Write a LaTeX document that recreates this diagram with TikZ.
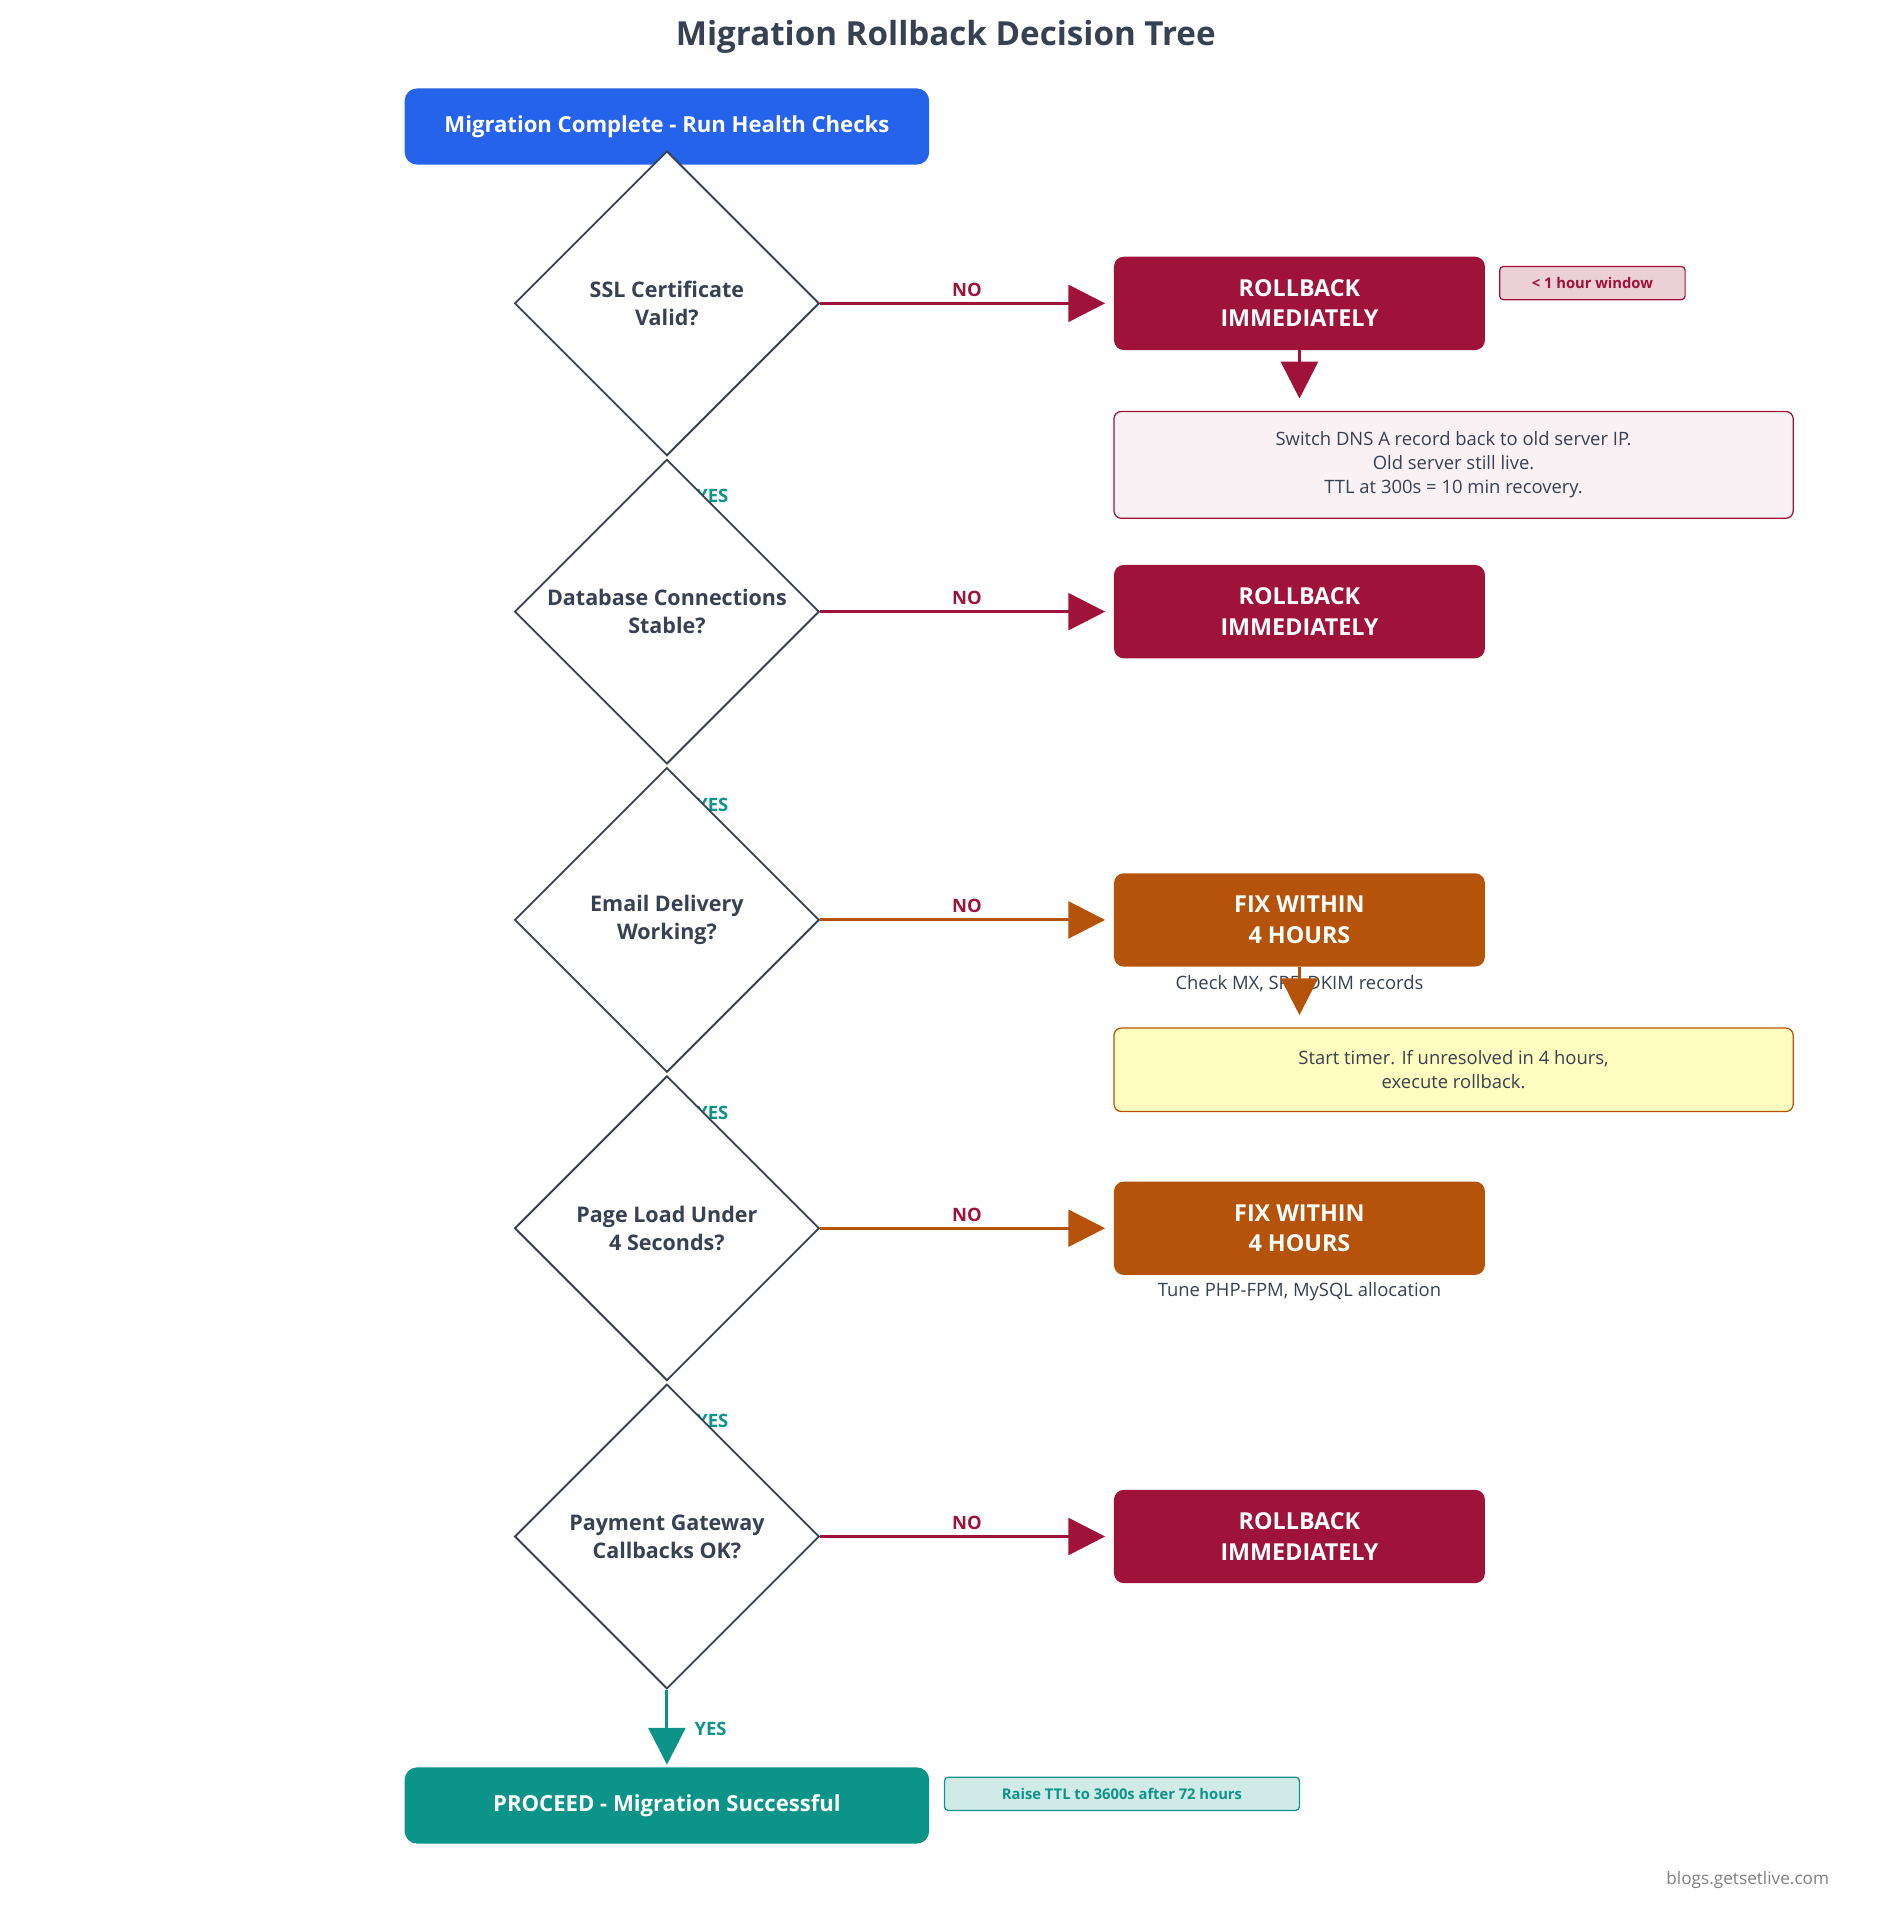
\documentclass[tikz,border=0pt]{standalone}
\usepackage{fontspec}
\setmainfont{Open Sans}
\usetikzlibrary{shapes.geometric,arrows.meta}
\definecolor{ink}{HTML}{374151}
\definecolor{startblue}{HTML}{2563EB}
\definecolor{crimson}{HTML}{9F1239}
\definecolor{amber}{HTML}{B45309}
\definecolor{teal}{HTML}{0D9488}
\newcommand{\fs}[1]{\fontsize{#1}{\dimexpr#1pt*13/10\relax}\selectfont}
\tikzset{
  check/.style={diamond, draw=ink, line width=1.5pt, fill=white, minimum width=248pt, minimum height=248pt, inner sep=0pt, align=center, text=ink, font=\fs{17.5}\bfseries},
  action/.style={rounded corners=8pt, fill=#1, minimum width=302pt, minimum height=76pt, align=center, text=white, font=\fs{19}\bfseries, inner sep=0pt},
  wide/.style={rounded corners=10pt, fill=#1, minimum width=427pt, minimum height=62pt, text=white, font=\fs{18}\bfseries, inner sep=0pt},
  note/.style={rounded corners=6pt, draw=#1, line width=1pt, minimum width=553pt, align=center, text=ink, font=\fs{15}, inner sep=0pt},
  tag/.style={rounded corners=3pt, draw=#1, line width=1pt, text=#1, font=\fs{12}\bfseries, inner sep=0pt, minimum height=27pt},
  flow/.style={line width=2.5pt, draw=#1, shorten >=7pt, -{Triangle[length=30pt,width=30pt,fill=#1]}},
  yes/.style={text=teal, font=\fs{15}\bfseries},
  no/.style={text=crimson, font=\fs{15}\bfseries}
}
\begin{document}
\begin{tikzpicture}[x=1pt, y=-1pt]
\useasboundingbox (0,0) rectangle (1530,1560);
\node[text=ink, font=\fs{27}\bfseries] (title) at (770,30) {Migration Rollback Decision Tree};
\node[wide=startblue] (start) at (543,103) {Migration Complete - Run Health Checks};

% yes labels, partly hidden by the diamonds
\foreach \y in {404,655,906,1157} \node[yes] at (580,\y) {YES};

% checks
\node[check] (ssl) at (543,247) {SSL Certificate\\Valid?};
\node[check] (db) at (543,498) {Database Connections\\Stable?};
\node[check] (mail) at (543,749) {Email Delivery\\Working?};
\node[check] (page) at (543,1000) {Page Load Under\\4 Seconds?};
\node[check] (pay) at (543,1251) {Payment Gateway\\Callbacks OK?};

% actions
\node[action=crimson] (rb1) at (1058,247) {ROLLBACK\\IMMEDIATELY};
\node[action=crimson] (rb2) at (1058,498) {ROLLBACK\\IMMEDIATELY};
\node[action=amber] (fix1) at (1058,749) {FIX WITHIN\\4 HOURS};
\node[action=amber] (fix2) at (1058,1000) {FIX WITHIN\\4 HOURS};
\node[action=crimson] (rb3) at (1058,1251) {ROLLBACK\\IMMEDIATELY};

\draw[flow=crimson] (ssl.east) -- node[no, above=1pt] {NO} (rb1.west);
\draw[flow=crimson] (db.east) -- node[no, above=1pt] {NO} (rb2.west);
\draw[flow=amber] (mail.east) -- node[no, above=1pt] {NO} (fix1.west);
\draw[flow=amber] (page.east) -- node[no, above=1pt] {NO} (fix2.west);
\draw[flow=crimson] (pay.east) -- node[no, above=1pt] {NO} (rb3.west);

% side notes
\node[tag=crimson, fill=crimson!20!white, minimum width=151pt] (win) at (1296.5,230.5) {< 1 hour window};
\node[note=crimson, fill=crimson!6!white, minimum height=87pt] (dns) at (1183.5,378.5) {Switch DNS A record back to old server IP.\\Old server still live.\\TTL at 300s = 10 min recovery.};
\draw[flow=crimson, shorten >=10pt] (rb1.south) -- (rb1.south |- dns.north);
\node[text=ink, font=\fs{15}] (mx) at (1058,801) {Check MX, SPF, DKIM records};
\node[note=amber, fill=yellow!25!white, minimum height=68pt] (timer) at (1183.5,871) {Start timer. If unresolved in 4 hours,\\execute rollback.};
\draw[flow=amber, shorten >=10pt] (fix1.south) -- (fix1.south |- timer.north);
\node[text=ink, font=\fs{15}] (tune) at (1058,1052) {Tune PHP-FPM, MySQL allocation};

% end
\node[wide=teal] (done) at (543,1470) {PROCEED - Migration Successful};
\draw[flow=teal, shorten >=2pt] (pay.south) -- node[yes, right=18pt] {YES} (done.north);
\node[tag=teal, fill=teal!20!white, minimum width=289pt] (ttl) at (913.5,1460.5) {Raise TTL to 3600s after 72 hours};
\node[text=gray, font=\fs{14}] (site) at (1423,1531) {blogs.getsetlive.com};
\end{tikzpicture}
\end{document}
